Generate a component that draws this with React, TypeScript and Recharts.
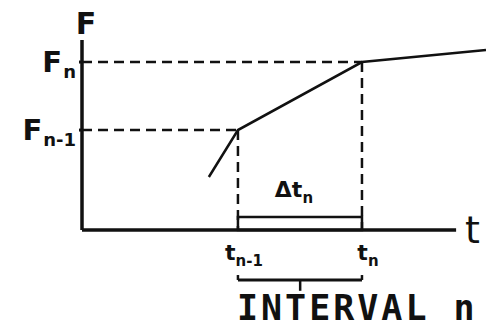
import { ComposedChart, Line, XAxis, YAxis, ReferenceLine, ReferenceArea } from 'recharts';

// time positions (0-100 scale along the t axis)
const tPrev = 38.6;
const tCur = 69.3;
const tAxisEnd = 92.6;
const tBraceMid = 54;

// force levels (0-100 scale along the F axis)
const fPrev = 52.6;
const fCur = 88.4;

const tTicks = [tPrev, tCur];
const tTickSubs = ['n-1', 'n'];
const fTicks = [fPrev, fCur];
const fTickSubs = ['n-1', 'n'];

// piecewise linear F(t) curve
const curveT = [31.4, 38.6, 69.3, 100];
const curveF = [27.9, 52.6, 88.4, 94.7];
const curve = curveT.map((t, i) => ({ t, F: curveF[i] }));

const deltaHeight = 6.8;
const braceY = -26.3;
const braceEndY = -23.7;
const braceTipY = -32;

const ink = '#111';
const font = '"DejaVu Sans", sans-serif';

function XTick({ x, y, index }: any) {
  return (
    <text x={x + 6} y={y + 22} textAnchor="middle" fill={ink} fontFamily={font} fontWeight={700} fontSize={22}>
      t
      <tspan dy={6} fontSize={15}>{tTickSubs[index]}</tspan>
    </text>
  );
}

function YTick({ x, y, index }: any) {
  return (
    <text x={x} y={y + 10} textAnchor="end" fill={ink} fontFamily={font} fontWeight={700} fontSize={29}>
      F
      <tspan dx={1} dy={6} fontSize={18}>{fTickSubs[index]}</tspan>
    </text>
  );
}

export default function App() {
  const dash = '10 6';
  return (
    <div style={{ position: 'absolute', left: 0, top: 0, background: '#fff' }}>
      <ComposedChart width={486} height={327} data={curve} margin={{ top: 40, right: 0, left: 10, bottom: 57 }}>
        <XAxis
          dataKey="t"
          type="number"
          domain={[0, 100]}
          ticks={tTicks}
          tick={<XTick />}
          axisLine={false}
          tickLine={false}
          height={40}
          allowDataOverflow
        />
        <YAxis
          type="number"
          domain={[0, 100]}
          ticks={fTicks}
          tick={<YTick />}
          axisLine={false}
          tickLine={{ stroke: ink, strokeWidth: 3 }}
          tickSize={3}
          tickMargin={3}
          width={72}
          allowDataOverflow
        />
        {/* axes */}
        <ReferenceLine
          segment={[{ x: 0, y: 0 }, { x: 0, y: 100 }]}
          stroke={ink}
          strokeWidth={3.5}
          label={{ value: 'F', position: 'top', offset: 6, dx: 4, fill: ink, fontSize: 30, fontWeight: 700, fontFamily: font }}
        />
        <ReferenceLine
          segment={[{ x: 0, y: 0 }, { x: tAxisEnd, y: 0 }]}
          stroke={ink}
          strokeWidth={3.5}
          label={{ value: 't', position: 'right', offset: 9, fill: ink, fontSize: 38, fontWeight: 400, fontFamily: font }}
        />
        {/* dashed guides */}
        <ReferenceLine segment={[{ x: 0, y: fCur }, { x: tCur, y: fCur }]} stroke={ink} strokeWidth={2.5} strokeDasharray={dash} />
        <ReferenceLine segment={[{ x: tCur, y: fCur }, { x: tCur, y: 0 }]} stroke={ink} strokeWidth={2.5} strokeDasharray={dash} />
        <ReferenceLine segment={[{ x: 0, y: fPrev }, { x: tPrev, y: fPrev }]} stroke={ink} strokeWidth={2.5} strokeDasharray={dash} />
        <ReferenceLine segment={[{ x: tPrev, y: fPrev }, { x: tPrev, y: 0 }]} stroke={ink} strokeWidth={2.5} strokeDasharray={dash} />
        {/* delta t bracket */}
        <ReferenceArea
          x1={tPrev}
          x2={tCur}
          y1={0}
          y2={deltaHeight}
          fill="none"
          stroke={ink}
          strokeWidth={2.5}
          fillOpacity={0}
          label={(p: any) => {
            const vb = p.viewBox;
            return (
              <text x={vb.x + vb.width / 2 - 6} y={vb.y - 20} textAnchor="middle" fill={ink} fontFamily={font} fontWeight={700} fontSize={22}>
                Δt
                <tspan dy={6} fontSize={15}>n</tspan>
              </text>
            );
          }}
        />
        {/* brace under the interval */}
        <ReferenceLine segment={[{ x: tPrev, y: braceEndY }, { x: tPrev, y: braceY }]} stroke={ink} strokeWidth={2.5} ifOverflow="visible" />
        <ReferenceLine segment={[{ x: tCur, y: braceEndY }, { x: tCur, y: braceY }]} stroke={ink} strokeWidth={2.5} ifOverflow="visible" />
        <ReferenceLine segment={[{ x: tBraceMid, y: braceY }, { x: tBraceMid, y: braceTipY }]} stroke={ink} strokeWidth={2.5} ifOverflow="visible" />
        <ReferenceLine
          segment={[{ x: tPrev, y: braceY }, { x: tCur, y: braceY }]}
          stroke={ink}
          strokeWidth={3}
          ifOverflow="visible"
          label={(p: any) => {
            const vb = p.viewBox;
            return (
              <text x={vb.x - 1} y={vb.y + 40} fill={ink} fontFamily='"DejaVu Sans Mono", monospace' fontWeight={700} fontSize={35} letterSpacing={3}>
                INTERVAL n
              </text>
            );
          }}
        />
        <Line dataKey="F" type="linear" stroke={ink} strokeWidth={2.5} dot={false} isAnimationActive={false} />
      </ComposedChart>
    </div>
  );
}
